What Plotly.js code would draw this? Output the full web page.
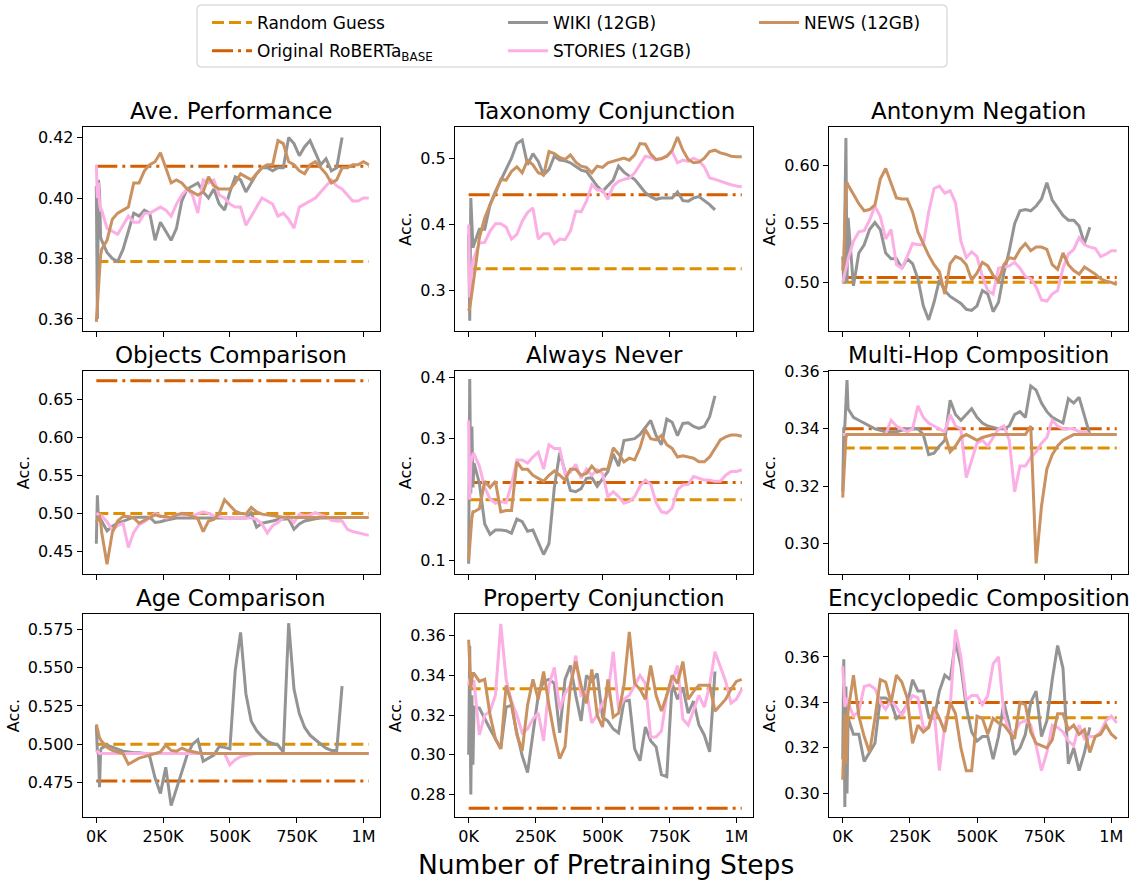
<!DOCTYPE html>
<html><head><meta charset="utf-8">
<script src="https://cdn.plot.ly/plotly-3.0.1.min.js"></script>
<style>html,body{margin:0;padding:0;background:#fff}</style>
</head><body>
<div id="chart" style="width:1139px;height:883px"></div>
<script>
// ---------------- DATA ----------------
const steps = [0,4000,8000,12000,16000,20000,40000,60000,80000,100000,120000,140000,160000,180000,200000,
  220000,240000,260000,280000,300000,320000,340000,360000,380000,400000,420000,440000,460000,480000,500000,
  520000,540000,560000,580000,600000,620000,640000,660000,680000,700000,720000,740000,760000,780000,800000,
  820000,840000,860000,880000,900000,920000,940000,960000,980000,1000000,1020000];

const taskTitles = ['Ave. Performance','Taxonomy Conjunction','Antonym Negation','Objects Comparison',
  'Always Never','Multi-Hop Composition','Age Comparison','Property Conjunction','Encyclopedic Composition'];

const seriesNames = ['Random Guess','Original RoBERTa<sub>BASE</sub>','WIKI (12GB)','STORIES (12GB)','NEWS (12GB)'];

const randomGuess = [0.379,0.3333,0.500,0.500,0.200,0.3333,0.500,0.3333,0.3333];
const robertaBase = [0.4105,0.445,0.504,0.675,0.228,0.340,0.476,0.273,0.340];

const xTickVals = [0,250000,500000,750000,1000000];
const xTickText = ['0K','250K','500K','750K','1M'];
const yTickVals = [
  [0.36,0.38,0.40,0.42],[0.3,0.4,0.5],[0.50,0.55,0.60],
  [0.45,0.50,0.55,0.60,0.65],[0.1,0.2,0.3,0.4],[0.30,0.32,0.34,0.36],
  [0.475,0.500,0.525,0.550,0.575],[0.28,0.30,0.32,0.34,0.36],[0.30,0.32,0.34,0.36]];

// Ave. Performance
const wikiAvePerf = [0.404,0.36,0.406,0.402,0.387,
  0.386,0.382,0.38,0.379,0.383,0.389,0.395,0.394,0.396,0.395,
  0.386,0.392,0.389,0.386,0.39,0.399,0.403,0.404,0.405,0.402,
  0.4,0.403,0.398,0.396,0.402,0.407,0.406,0.402,0.405,0.408,
  0.41,0.41,0.409,0.41,0.41,0.42,0.418,0.414,0.417,0.419,
  0.415,0.411,0.413,0.409,0.41,0.42];
const storiesAvePerf = [0.411,0.400,0.405,0.398,0.396,
  0.396,0.39,0.389,0.388,0.391,0.394,0.392,0.392,0.395,0.395,
  0.396,0.397,0.396,0.394,0.398,0.401,0.403,0.401,0.395,0.406,
  0.405,0.406,0.401,0.4,0.398,0.397,0.397,0.391,0.394,0.397,
  0.4,0.399,0.398,0.394,0.395,0.393,0.39,0.397,0.398,0.399,
  0.4,0.402,0.404,0.406,0.404,0.403,0.401,0.399,0.399,0.4,0.4];
const newsAvePerf = [0.359,0.365,0.371,0.376,0.381,
  0.383,0.386,0.393,0.395,0.396,0.397,0.405,0.405,0.409,0.411,
  0.412,0.415,0.41,0.405,0.406,0.405,0.403,0.402,0.401,0.402,
  0.407,0.404,0.403,0.403,0.403,0.405,0.408,0.407,0.406,0.408,
  0.41,0.411,0.411,0.419,0.418,0.412,0.411,0.409,0.408,0.411,
  0.412,0.41,0.408,0.405,0.406,0.41,0.41,0.411,0.411,0.412,0.411];

// Taxonomy Conjunction
const wikiTaxonomy = [0.385,0.255,0.44,0.40,0.365,
  0.37,0.393,0.393,0.43,0.45,0.467,0.483,0.5,0.522,0.527,
  0.49,0.507,0.495,0.475,0.483,0.503,0.497,0.496,0.493,0.488,
  0.482,0.48,0.468,0.458,0.45,0.458,0.467,0.488,0.479,0.473,
  0.468,0.458,0.448,0.442,0.438,0.44,0.44,0.44,0.449,0.436,
  0.435,0.44,0.442,0.436,0.43,0.422];
const storiesTaxonomy = [0.40,0.29,0.32,0.335,0.345,
  0.35,0.372,0.373,0.39,0.401,0.401,0.396,0.378,0.385,0.405,
  0.418,0.425,0.378,0.386,0.386,0.371,0.378,0.377,0.39,0.42,
  0.419,0.435,0.46,0.452,0.452,0.438,0.458,0.465,0.468,0.47,
  0.478,0.49,0.503,0.501,0.497,0.5,0.503,0.51,0.493,0.497,
  0.495,0.5,0.496,0.487,0.47,0.468,0.465,0.462,0.46,0.458,0.457];
const newsTaxonomy = [0.27,0.275,0.285,0.295,0.305,
  0.32,0.38,0.41,0.43,0.447,0.468,0.467,0.48,0.487,0.478,
  0.497,0.49,0.478,0.475,0.51,0.507,0.501,0.498,0.505,0.494,
  0.488,0.486,0.478,0.488,0.486,0.493,0.495,0.498,0.5,0.497,
  0.505,0.522,0.521,0.506,0.498,0.499,0.503,0.512,0.532,0.512,
  0.498,0.493,0.494,0.5,0.51,0.512,0.508,0.506,0.503,0.502,0.502];

// Antonym Negation
const wikiAntonym = [0.522,0.499,0.556,0.623,0.50,
  0.555,0.497,0.525,0.532,0.545,0.551,0.545,0.525,0.52,0.52,
  0.512,0.52,0.516,0.503,0.48,0.468,0.483,0.502,0.493,0.488,
  0.485,0.482,0.477,0.476,0.48,0.493,0.49,0.475,0.483,0.508,
  0.527,0.55,0.561,0.562,0.561,0.565,0.571,0.585,0.57,0.564,
  0.557,0.553,0.553,0.548,0.533,0.547];
const storiesAntonym = [0.50,0.505,0.51,0.512,0.515,
  0.52,0.535,0.543,0.544,0.553,0.565,0.556,0.537,0.545,0.515,
  0.512,0.522,0.533,0.532,0.532,0.56,0.58,0.582,0.576,0.578,
  0.568,0.535,0.521,0.526,0.522,0.505,0.493,0.49,0.512,0.513,
  0.514,0.517,0.512,0.505,0.503,0.496,0.485,0.484,0.49,0.493,
  0.512,0.524,0.528,0.538,0.532,0.53,0.529,0.522,0.524,0.527,0.527];
const newsAntonym = [0.51,0.52,0.55,0.58,0.585,
  0.583,0.575,0.567,0.561,0.562,0.566,0.588,0.597,0.585,0.572,
  0.571,0.571,0.56,0.543,0.533,0.523,0.515,0.509,0.49,0.516,
  0.522,0.52,0.515,0.502,0.508,0.517,0.514,0.506,0.501,0.515,
  0.521,0.52,0.528,0.533,0.527,0.53,0.53,0.528,0.515,0.511,
  0.525,0.515,0.51,0.507,0.513,0.51,0.507,0.503,0.501,0.5,0.498];

// Objects Comparison
const wikiObjects = [0.46,0.524,0.49,0.495,0.488,
  0.49,0.477,0.483,0.487,0.49,0.493,0.495,0.495,0.495,0.495,
  0.488,0.489,0.491,0.493,0.494,0.494,0.494,0.494,0.494,0.494,
  0.494,0.494,0.494,0.494,0.494,0.494,0.494,0.494,0.501,0.482,
  0.487,0.488,0.49,0.492,0.493,0.493,0.479,0.486,0.49,0.492,
  0.493,0.494,0.494,0.494,0.494,0.494];
const storiesObjects = [0.50,0.499,0.498,0.498,0.497,
  0.497,0.489,0.478,0.484,0.487,0.455,0.475,0.485,0.489,0.495,
  0.5,0.497,0.494,0.495,0.498,0.498,0.498,0.497,0.499,0.502,
  0.5,0.497,0.496,0.494,0.493,0.494,0.494,0.494,0.494,0.492,
  0.486,0.474,0.484,0.488,0.494,0.496,0.488,0.499,0.497,0.498,
  0.501,0.498,0.496,0.491,0.49,0.49,0.479,0.476,0.474,0.473,0.471];
const newsObjects = [0.488,0.492,0.495,0.496,0.49,
  0.475,0.433,0.475,0.49,0.496,0.496,0.494,0.487,0.491,0.495,
  0.498,0.496,0.496,0.494,0.498,0.5,0.499,0.496,0.493,0.476,
  0.49,0.492,0.5,0.518,0.51,0.503,0.5,0.499,0.508,0.502,
  0.499,0.498,0.497,0.496,0.495,0.495,0.4945,0.4945,0.4945,0.4945,
  0.4945,0.4945,0.4945,0.4945,0.4945,0.4945,0.4945,0.4945,0.4945,0.4945,0.4945];

// Always Never
const wikiAlways = [0.095,0.398,0.21,0.32,0.22,
  0.26,0.227,0.16,0.143,0.15,0.15,0.149,0.145,0.168,0.164,
  0.148,0.15,0.13,0.11,0.128,0.22,0.277,0.248,0.215,0.213,
  0.218,0.235,0.236,0.222,0.235,0.246,0.275,0.255,0.297,0.298,
  0.3,0.307,0.318,0.33,0.305,0.29,0.332,0.327,0.305,0.325,
  0.326,0.32,0.317,0.32,0.336,0.37];
const storiesAlways = [0.33,0.20,0.26,0.27,0.275,
  0.275,0.255,0.22,0.201,0.194,0.197,0.195,0.225,0.265,0.265,
  0.26,0.27,0.278,0.25,0.29,0.284,0.284,0.242,0.245,0.258,
  0.235,0.25,0.24,0.249,0.243,0.205,0.213,0.205,0.194,0.197,
  0.205,0.222,0.232,0.225,0.195,0.18,0.178,0.186,0.216,0.224,
  0.225,0.238,0.235,0.232,0.232,0.23,0.23,0.24,0.246,0.246,0.249];
const newsAlways = [0.10,0.13,0.15,0.17,0.18,
  0.18,0.185,0.23,0.22,0.23,0.18,0.182,0.182,0.262,0.25,
  0.25,0.24,0.235,0.23,0.24,0.247,0.24,0.232,0.25,0.25,
  0.24,0.243,0.255,0.245,0.25,0.25,0.285,0.275,0.262,0.268,
  0.265,0.285,0.315,0.3,0.298,0.305,0.29,0.284,0.27,0.272,
  0.27,0.268,0.262,0.262,0.27,0.285,0.298,0.303,0.306,0.306,0.304];

// Multi-Hop Composition
const wikiMultiHop = [0.318,0.34,0.341,0.352,0.357,
  0.347,0.344,0.343,0.342,0.341,0.34,0.3395,0.339,0.339,0.339,
  0.3395,0.34,0.34,0.34,0.338,0.331,0.3315,0.334,0.336,0.35,
  0.345,0.343,0.345,0.347,0.344,0.342,0.341,0.3405,0.34,0.34,
  0.341,0.345,0.346,0.344,0.355,0.3535,0.349,0.346,0.344,0.343,
  0.342,0.3505,0.349,0.351,0.344,0.338];
const storiesMultiHop = [0.338,0.338,0.338,0.338,0.338,
  0.338,0.338,0.338,0.338,0.338,0.338,0.338,0.338,0.343,0.341,
  0.34,0.339,0.34,0.348,0.344,0.342,0.341,0.34,0.339,0.345,
  0.341,0.34,0.323,0.329,0.335,0.336,0.334,0.337,0.34,0.341,
  0.336,0.318,0.327,0.327,0.33,0.332,0.335,0.337,0.343,0.341,
  0.34,0.34,0.34,0.339,0.339,0.338,0.338,0.338,0.338,0.338,0.338];
const newsMultiHop = [0.316,0.325,0.333,0.337,0.338,
  0.338,0.338,0.338,0.338,0.338,0.338,0.338,0.338,0.338,0.338,
  0.338,0.338,0.338,0.338,0.338,0.338,0.338,0.338,0.338,0.332,
  0.334,0.337,0.338,0.337,0.336,0.337,0.3375,0.338,0.338,0.338,
  0.338,0.338,0.338,0.338,0.341,0.293,0.313,0.326,0.331,0.334,
  0.336,0.337,0.338,0.338,0.338,0.338,0.338,0.338,0.338,0.338,0.338];

// Age Comparison
const wikiAge = [0.512,0.495,0.494,0.472,0.496,
  0.4975,0.4995,0.498,0.4965,0.4955,0.495,0.4945,0.4945,0.494,0.492,
  0.478,0.468,0.485,0.46,0.471,0.481,0.493,0.5,0.503,0.489,
  0.491,0.493,0.4985,0.498,0.497,0.548,0.573,0.533,0.515,0.509,
  0.505,0.502,0.5005,0.4995,0.495,0.579,0.536,0.52,0.511,0.506,
  0.503,0.5,0.4975,0.496,0.496,0.538];
const storiesAge = [0.496,0.495,0.495,0.494,0.494,
  0.494,0.494,0.494,0.494,0.494,0.494,0.494,0.494,0.494,0.494,
  0.494,0.494,0.494,0.494,0.494,0.494,0.494,0.494,0.494,0.494,
  0.494,0.494,0.494,0.494,0.4865,0.49,0.492,0.493,0.4935,0.494,
  0.494,0.494,0.494,0.494,0.494,0.494,0.494,0.494,0.494,0.494,
  0.494,0.494,0.494,0.494,0.494,0.494,0.494,0.494,0.494,0.494,0.494];
const newsAge = [0.513,0.51,0.506,0.504,0.503,
  0.502,0.498,0.496,0.495,0.494,0.487,0.489,0.491,0.492,0.493,
  0.4935,0.495,0.4995,0.496,0.4955,0.4975,0.496,0.495,0.4945,0.494,
  0.494,0.494,0.494,0.494,0.494,0.494,0.494,0.494,0.494,0.494,
  0.494,0.494,0.494,0.494,0.494,0.494,0.494,0.494,0.494,0.494,
  0.494,0.494,0.494,0.494,0.494,0.494,0.494,0.494,0.494,0.494,0.494];

// Property Conjunction
const wikiProperty = [0.30,0.355,0.28,0.33,0.295,
  0.324,0.3235,0.318,0.313,0.308,0.303,0.324,0.325,0.311,0.2995,
  0.291,0.31,0.33,0.337,0.338,0.336,0.311,0.338,0.345,0.33,
  0.317,0.34,0.337,0.341,0.319,0.317,0.313,0.311,0.327,0.3275,
  0.303,0.297,0.314,0.307,0.304,0.29,0.289,0.336,0.328,0.334,
  0.321,0.327,0.315,0.31,0.3015,0.342];
const storiesProperty = [0.335,0.338,0.338,0.337,0.337,
  0.337,0.31,0.32,0.322,0.33,0.366,0.338,0.327,0.32,0.311,
  0.313,0.318,0.321,0.307,0.335,0.344,0.323,0.331,0.335,0.35,
  0.33,0.332,0.316,0.32,0.326,0.33,0.352,0.323,0.328,0.33,
  0.335,0.34,0.336,0.309,0.309,0.312,0.33,0.336,0.345,0.318,
  0.315,0.322,0.33,0.324,0.335,0.352,0.345,0.337,0.326,0.328,0.333];
const newsProperty = [0.358,0.345,0.333,0.338,0.341,
  0.341,0.337,0.338,0.32,0.308,0.303,0.335,0.326,0.31,0.302,
  0.325,0.338,0.328,0.342,0.325,0.31,0.298,0.304,0.335,0.347,
  0.335,0.326,0.343,0.32,0.314,0.338,0.319,0.321,0.335,0.362,
  0.336,0.333,0.328,0.345,0.33,0.322,0.33,0.34,0.336,0.347,
  0.328,0.332,0.335,0.335,0.335,0.322,0.325,0.328,0.333,0.337,0.338];

// Encyclopedic Composition
const wikiEncyclopedic = [0.315,0.359,0.294,0.347,0.30,
  0.333,0.326,0.326,0.314,0.318,0.322,0.342,0.342,0.34,0.333,
  0.335,0.339,0.35,0.345,0.345,0.334,0.333,0.345,0.352,0.35,
  0.367,0.356,0.338,0.327,0.323,0.325,0.325,0.315,0.325,0.34,
  0.33,0.317,0.32,0.326,0.34,0.345,0.325,0.332,0.35,0.365,
  0.355,0.313,0.32,0.31,0.318,0.329];
const storiesEncyclopedic = [0.356,0.345,0.338,0.34,0.342,
  0.34,0.334,0.336,0.347,0.3477,0.346,0.34,0.337,0.341,0.338,
  0.334,0.339,0.343,0.342,0.329,0.329,0.337,0.31,0.33,0.338,
  0.372,0.36,0.341,0.343,0.343,0.339,0.343,0.357,0.36,0.335,
  0.327,0.327,0.331,0.332,0.33,0.321,0.31,0.318,0.33,0.329,
  0.327,0.323,0.321,0.33,0.324,0.325,0.325,0.327,0.332,0.334,0.331];
const newsEncyclopedic = [0.306,0.32,0.335,0.313,0.33,
  0.336,0.352,0.334,0.325,0.318,0.333,0.35,0.349,0.34,0.352,
  0.349,0.342,0.322,0.33,0.327,0.329,0.338,0.333,0.327,0.34,
  0.335,0.32,0.31,0.31,0.334,0.333,0.326,0.333,0.331,0.33,
  0.327,0.324,0.34,0.339,0.327,0.322,0.321,0.32,0.3235,0.335,
  0.335,0.328,0.33,0.326,0.328,0.318,0.325,0.326,0.33,0.326,0.324];

// ---------------- FIGURE ----------------
const W = 1139, H = 883;
const FONT = 'DejaVu Sans';
const colors = {rg:'#DE8F05', rb:'#D55E00', wiki:'#949494', stories:'#FBAFE4', news:'#CA9161'};
const colPx = [[82.7,380],[455,753],[829,1128]];
const rowPx = [[127,331],[371,574],[614,817]];
const yRanges = [[0.356,0.4235],[0.2394,0.547],[0.4585,0.6324],[0.42,0.688],[0.078,0.411],
  [0.2893,0.3602],[0.4526,0.585],[0.2686,0.371],[0.2896,0.3789]];
const yFormats = ['.2f','.1f','.2f','.2f','.1f','.2f','.3f','.2f','.2f'];

const panelSeries = [
  [wikiAvePerf, storiesAvePerf, newsAvePerf],
  [wikiTaxonomy, storiesTaxonomy, newsTaxonomy],
  [wikiAntonym, storiesAntonym, newsAntonym],
  [wikiObjects, storiesObjects, newsObjects],
  [wikiAlways, storiesAlways, newsAlways],
  [wikiMultiHop, storiesMultiHop, newsMultiHop],
  [wikiAge, storiesAge, newsAge],
  [wikiProperty, storiesProperty, newsProperty],
  [wikiEncyclopedic, storiesEncyclopedic, newsEncyclopedic]
];

const data = [];
const layout = {
  width: W, height: H,
  margin: {l:0, r:0, t:0, b:0},
  paper_bgcolor: '#fff', plot_bgcolor: '#fff',
  font: {family: FONT, color: '#000', size: 16},
  showlegend: true,
  annotations: [], shapes: []
};

const lastStep = steps[steps.length - 1];
for (let k = 0; k < 9; k++) {
  const r = Math.floor(k / 3), c = k % 3;
  const ax = k === 0 ? '' : String(k + 1);
  const xa = 'x' + ax, ya = 'y' + ax;
  const [wiki, stories, news] = panelSeries[k];
  const show = k === 0;
  data.push({x:[steps[0], lastStep], y:[randomGuess[k], randomGuess[k]], xaxis:xa, yaxis:ya, mode:'lines',
    name: seriesNames[0], legend:'legend', legendgroup:'rg', showlegend:show, hoverinfo:'skip',
    line:{color:colors.rg, width:3, dash:'12px,5px'}});
  data.push({x:[steps[0], lastStep], y:[robertaBase[k], robertaBase[k]], xaxis:xa, yaxis:ya, mode:'lines',
    name: seriesNames[1], legend:'legend', legendgroup:'rb', showlegend:show, hoverinfo:'skip',
    line:{color:colors.rb, width:3, dash:'21px,5px,3px,5px'}});
  data.push({x:steps.slice(0, wiki.length), y:wiki, xaxis:xa, yaxis:ya, mode:'lines',
    name: seriesNames[2], legend:'legend2', legendgroup:'wiki', showlegend:show,
    line:{color:colors.wiki, width:3}});
  data.push({x:steps.slice(0, stories.length), y:stories, xaxis:xa, yaxis:ya, mode:'lines',
    name: seriesNames[3], legend:'legend2', legendgroup:'stories', showlegend:show,
    line:{color:colors.stories, width:3}});
  data.push({x:steps.slice(0, news.length), y:news, xaxis:xa, yaxis:ya, mode:'lines',
    name: seriesNames[4], legend:'legend3', legendgroup:'news', showlegend:show,
    line:{color:colors.news, width:3}});

  const common = {showline:true, mirror:true, linecolor:'#000', linewidth:1, showgrid:false, zeroline:false,
    ticks:'outside', ticklen:5, tickwidth:1, tickcolor:'#000', tickfont:{family:FONT, size:16, color:'#000'}};
  layout['xaxis' + ax] = Object.assign({}, common, {
    domain:[colPx[c][0]/W, colPx[c][1]/W], anchor:ya, range:[-51000, 1062000],
    tickmode:'array', tickvals:xTickVals, ticktext:xTickText, showticklabels: r === 2});
  const yax = Object.assign({}, common, {
    domain:[1 - rowPx[r][1]/H, 1 - rowPx[r][0]/H], anchor:xa, range:yRanges[k],
    tickmode:'array', tickvals:yTickVals[k], tickformat:yFormats[k]});
  if (k > 0) yax.title = {text:'Acc.', font:{family:FONT, size:16, color:'#000'}, standoff:4};
  layout['yaxis' + ax] = yax;

  layout.annotations.push({text: taskTitles[k], xref:'paper', yref:'paper',
    x:(colPx[c][0] + colPx[c][1]) / 2 / W, y:1 - (rowPx[r][0] - 1) / H, xanchor:'center', yanchor:'bottom',
    showarrow:false, font:{family:FONT, size:23, color:'#000'}});
}

layout.annotations.push({text:'Number of Pretraining Steps', xref:'paper', yref:'paper',
  x:606/W, y:1 - 864/H, xanchor:'center', yanchor:'middle', showarrow:false,
  font:{family:FONT, size:26.5, color:'#000'}});

const legBase = {orientation:'v', xanchor:'left', yanchor:'top', bgcolor:'rgba(0,0,0,0)', borderwidth:0,
  font:{family:FONT, size:17, color:'#000'}, traceorder:'grouped', tracegroupgap:3, itemwidth:40};
layout.legend = Object.assign({}, legBase, {x:207/W, y:1 - 5/H});
layout.legend2 = Object.assign({}, legBase, {x:503/W, y:1 - 5/H});
layout.legend3 = Object.assign({}, legBase, {x:754/W, y:1 - 5/H});

// legend frame (rounded rectangle)
const fx0 = 197/W, fx1 = 947/W, fyT = 1 - 5/H, fyB = 1 - 67/H, rx = 4/W, ry = 4/H;
layout.shapes.push({type:'path', xref:'paper', yref:'paper', layer:'below',
  path:`M${fx0+rx},${fyT} L${fx1-rx},${fyT} Q${fx1},${fyT} ${fx1},${fyT-ry} L${fx1},${fyB+ry} Q${fx1},${fyB} ${fx1-rx},${fyB} L${fx0+rx},${fyB} Q${fx0},${fyB} ${fx0},${fyB+ry} L${fx0},${fyT-ry} Q${fx0},${fyT} ${fx0+rx},${fyT} Z`,
  line:{color:'#cccccc', width:1}, fillcolor:'rgba(255,255,255,0.8)'});

Plotly.newPlot('chart', data, layout, {staticPlot:true, displayModeBar:false});
</script>
</body></html>
